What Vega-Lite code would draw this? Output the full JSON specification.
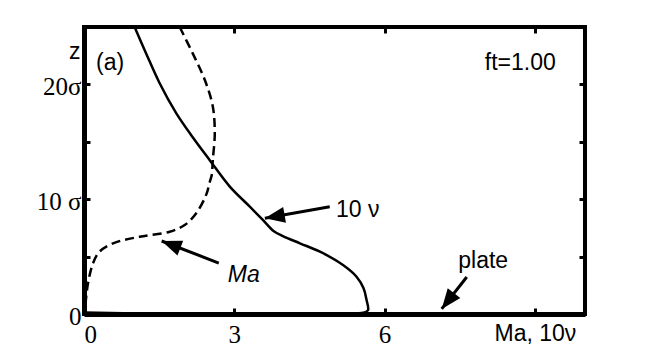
{
  "$schema": "https://vega.github.io/schema/vega-lite/v6.json",
  "width": 501,
  "height": 287,
  "autosize": "none",
  "padding": {"left": 84, "top": 27, "right": 62, "bottom": 40},
  "background": "white",
  "config": {
    "view": {"stroke": "black", "strokeWidth": 4},
    "axis": {
      "grid": false,
      "domainColor": "black",
      "domainWidth": 5,
      "tickColor": "black",
      "tickWidth": 3,
      "tickSize": -6,
      "labelColor": "black",
      "labelFont": "Liberation Serif",
      "labelFontSize": 25,
      "titleColor": "black"
    }
  },
  "datasets": {
    "nu": [
      {"x": 1.01, "z": 25.0},
      {"x": 1.24, "z": 22.7},
      {"x": 1.51, "z": 20.1},
      {"x": 1.84, "z": 17.5},
      {"x": 2.17, "z": 15.4},
      {"x": 2.51, "z": 13.4},
      {"x": 2.91, "z": 11.1},
      {"x": 3.31, "z": 9.35},
      {"x": 3.57, "z": 8.19},
      {"x": 3.79, "z": 7.2},
      {"x": 3.97, "z": 6.79},
      {"x": 4.31, "z": 6.16},
      {"x": 4.71, "z": 5.43},
      {"x": 5.17, "z": 4.27},
      {"x": 5.44, "z": 3.25},
      {"x": 5.58, "z": 2.24},
      {"x": 5.64, "z": 1.22},
      {"x": 5.67, "z": 0.35},
      {"x": 5.6, "z": 0.14},
      {"x": 0.0, "z": 0.14}
    ],
    "ma": [
      {"x": 1.91, "z": 25.0},
      {"x": 2.17, "z": 22.7},
      {"x": 2.41, "z": 20.4},
      {"x": 2.57, "z": 18.1},
      {"x": 2.61, "z": 15.7},
      {"x": 2.57, "z": 13.4},
      {"x": 2.55, "z": 12.1},
      {"x": 2.51, "z": 11.5},
      {"x": 2.44, "z": 10.4},
      {"x": 2.24, "z": 8.77},
      {"x": 2.01, "z": 7.75},
      {"x": 1.71, "z": 7.17},
      {"x": 1.11, "z": 6.73},
      {"x": 0.58, "z": 6.16},
      {"x": 0.31, "z": 5.43},
      {"x": 0.18, "z": 4.42},
      {"x": 0.08, "z": 2.67},
      {"x": 0.03, "z": 0.93},
      {"x": 0.01, "z": 0.2}
    ],
    "arrows": [
      {"arrow": "nu", "x1": 4.905, "z1": 9.35, "x2": 3.61, "z2": 8.34},
      {"arrow": "ma", "x1": 2.69, "z1": 4.44, "x2": 1.55, "z2": 6.36},
      {"arrow": "plate", "x1": 7.64, "z1": 3.22, "x2": 7.14, "z2": 0.44}
    ],
    "labels": [
      {"x": 0.24, "z": 21.25, "text": "(a)"},
      {"x": 8.0, "z": 21.25, "text": "ft=1.00"},
      {"x": 5.03, "z": 8.48, "text": "10 ν"},
      {"x": 7.47, "z": 3.98, "text": "plate"}
    ],
    "italic": [
      {"x": 2.87, "z": 2.8, "text": "Ma"}
    ]
  },
  "resolve": {"axis": {"x": "independent", "y": "independent"}},
  "layer": [
    {
      "data": {"name": "nu"},
      "mark": {"type": "line", "color": "black", "strokeWidth": 2.5, "interpolate": "catmull-rom"},
      "encoding": {
        "x": {
          "field": "x", "type": "quantitative",
          "scale": {"domain": [0, 10], "nice": false},
          "axis": {
            "orient": "bottom",
            "values": [0, 3, 6, 9],
            "title": null,
            "labelPadding": 14,
            "labelExpr": "datum.value == 9 ? 'Ma, 10ν' : datum.label",
            "labelFont": {"condition": {"test": "datum.value == 9", "value": "Liberation Sans"}, "value": "Liberation Serif"},
            "labelFontSize": {"condition": {"test": "datum.value == 9", "value": 23}, "value": 25}
          }
        },
        "y": {
          "field": "z", "type": "quantitative",
          "scale": {"domain": [0, 25], "nice": false},
          "axis": {
            "orient": "left",
            "values": [0, 5, 10, 15, 20],
            "labelPadding": 9,
            "labelOffset": 2.5,
            "labelExpr": "datum.value == 0 ? '0' : datum.value == 10 ? '10 σ' : datum.value == 20 ? '20σ' : ''",
            "title": "z",
            "titleAngle": 0,
            "titleFont": "Liberation Sans",
            "titleFontSize": 23,
            "titleFontWeight": "normal",
            "titleAlign": "right",
            "titleBaseline": "middle",
            "titleX": -4,
            "titleY": 24
          }
        },
        "order": {"value": null}
      }
    },
    {
      "data": {"name": "ma"},
      "mark": {"type": "line", "color": "black", "strokeWidth": 2.5, "strokeDash": [9, 5], "interpolate": "catmull-rom"},
      "encoding": {
        "x": {
          "field": "x", "type": "quantitative",
          "scale": {"domain": [0, 10], "nice": false},
          "axis": {"orient": "top", "values": [0, 3, 6, 9], "labels": false, "domain": false, "title": null}
        },
        "y": {
          "field": "z", "type": "quantitative",
          "scale": {"domain": [0, 25], "nice": false},
          "axis": {"orient": "right", "values": [5, 10, 15, 20], "labels": false, "domain": false, "title": null}
        },
        "order": {"value": null}
      }
    },
    {
      "data": {"name": "arrows"},
      "mark": {"type": "rule", "color": "black", "strokeWidth": 3},
      "encoding": {
        "x": {"field": "x1", "type": "quantitative", "scale": {"domain": [0, 10], "nice": false}, "axis": null},
        "y": {"field": "z1", "type": "quantitative", "scale": {"domain": [0, 25], "nice": false}, "axis": null},
        "x2": {"field": "x2"},
        "y2": {"field": "z2"}
      }
    },
    {
      "data": {"name": "arrows"},
      "transform": [{"filter": "datum.arrow == 'nu'"}],
      "mark": {"type": "point", "shape": "M0,0L-0.4,1L0.4,1Z", "filled": true, "fill": "black", "strokeWidth": 0, "opacity": 1, "size": 1600, "angle": 260},
      "encoding": {
        "x": {"field": "x2", "type": "quantitative", "scale": {"domain": [0, 10], "nice": false}, "axis": null},
        "y": {"field": "z2", "type": "quantitative", "scale": {"domain": [0, 25], "nice": false}, "axis": null}
      }
    },
    {
      "data": {"name": "arrows"},
      "transform": [{"filter": "datum.arrow == 'ma'"}],
      "mark": {"type": "point", "shape": "M0,0L-0.4,1L0.4,1Z", "filled": true, "fill": "black", "strokeWidth": 0, "opacity": 1, "size": 1600, "angle": 291},
      "encoding": {
        "x": {"field": "x2", "type": "quantitative", "scale": {"domain": [0, 10], "nice": false}, "axis": null},
        "y": {"field": "z2", "type": "quantitative", "scale": {"domain": [0, 25], "nice": false}, "axis": null}
      }
    },
    {
      "data": {"name": "arrows"},
      "transform": [{"filter": "datum.arrow == 'plate'"}],
      "mark": {"type": "point", "shape": "M0,0L-0.4,1L0.4,1Z", "filled": true, "fill": "black", "strokeWidth": 0, "opacity": 1, "size": 1600, "angle": 218},
      "encoding": {
        "x": {"field": "x2", "type": "quantitative", "scale": {"domain": [0, 10], "nice": false}, "axis": null},
        "y": {"field": "z2", "type": "quantitative", "scale": {"domain": [0, 25], "nice": false}, "axis": null}
      }
    },
    {
      "data": {"name": "labels"},
      "mark": {"type": "text", "font": "Liberation Sans", "fontSize": 23, "align": "left", "baseline": "alphabetic", "color": "black"},
      "encoding": {
        "x": {"field": "x", "type": "quantitative", "scale": {"domain": [0, 10], "nice": false}, "axis": null},
        "y": {"field": "z", "type": "quantitative", "scale": {"domain": [0, 25], "nice": false}, "axis": null},
        "text": {"field": "text"}
      }
    },
    {
      "data": {"name": "italic"},
      "mark": {"type": "text", "font": "Liberation Sans", "fontSize": 23, "fontStyle": "italic", "align": "left", "baseline": "alphabetic", "color": "black"},
      "encoding": {
        "x": {"field": "x", "type": "quantitative", "scale": {"domain": [0, 10], "nice": false}, "axis": null},
        "y": {"field": "z", "type": "quantitative", "scale": {"domain": [0, 25], "nice": false}, "axis": null},
        "text": {"field": "text"}
      }
    }
  ]
}
